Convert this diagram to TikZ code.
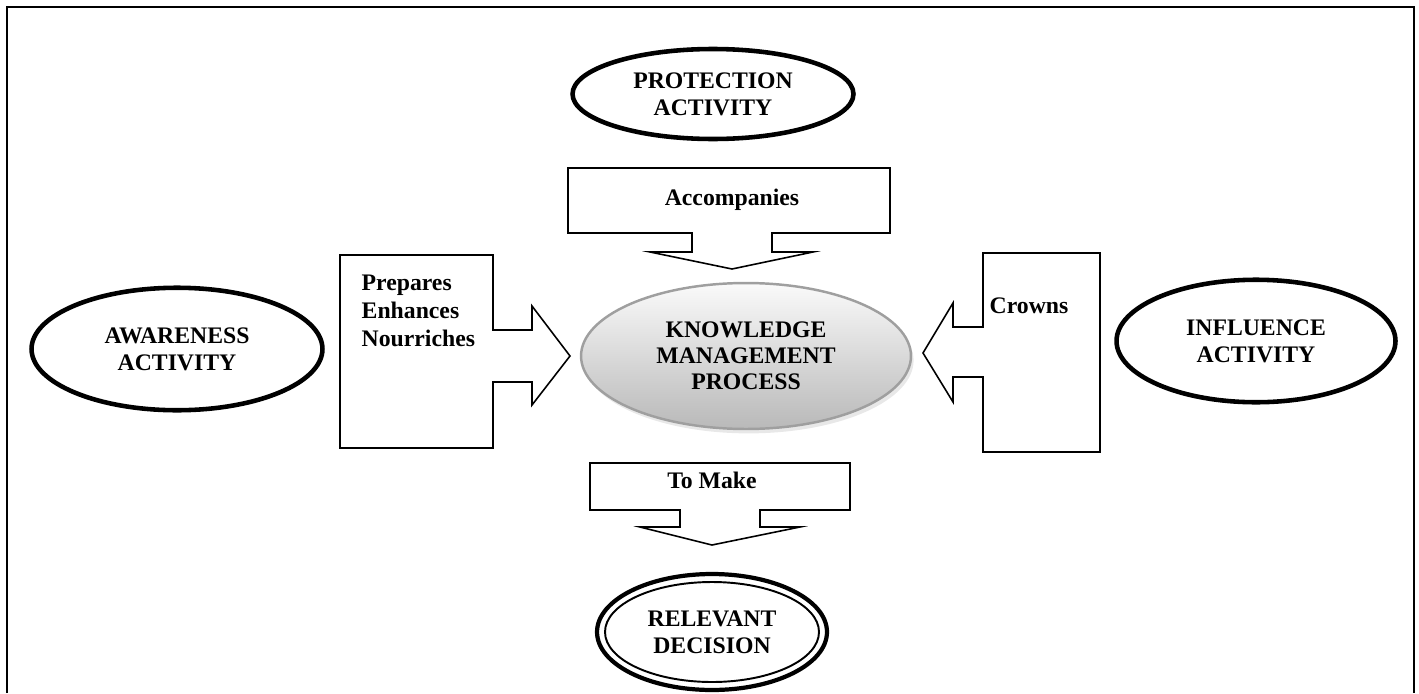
\documentclass[tikz,border=0pt]{standalone}
\usepackage{fontspec}
\setmainfont{Liberation Serif}
\usetikzlibrary{shapes.geometric, shadows}

\begin{document}
\begin{tikzpicture}[x=0.02cm, y=-0.02cm, thick,
  act node/.style={ellipse, draw, line width=2.6pt, inner sep=0pt, align=center, font=\fontsize{13.5}{15.5}\selectfont\bfseries},
  core node/.style={ellipse, draw=gray!75, line width=1.4pt, top color=gray!4, bottom color=gray!55, inner sep=0pt, align=center,
    drop shadow={shadow xshift=1.5pt, shadow yshift=-2.5pt, fill=gray!35}, font=\fontsize{13.5}{14.8}\selectfont\bfseries},
  callout/.style={draw, line width=0.9pt, fill=white, line join=miter},
  verb text/.style={inner sep=0pt, align=left, font=\fontsize{13.5}{15.9}\selectfont\bfseries}]

  \useasboundingbox (0,0) rectangle (1419,693);

  % Frame (open at the bottom)
  \draw[line width=1.2pt] (7,693) -- (7,7) -- (1414,7) -- (1414,693);

  % Activities
  \node[act node, minimum width=5.62cm, minimum height=1.8cm] (prot) at (713,94) {PROTECTION\\ACTIVITY};
  \node[act node, minimum width=5.82cm, minimum height=2.45cm] (aware) at (177,349) {AWARENESS\\ACTIVITY};
  \node[act node, minimum width=5.58cm, minimum height=2.45cm] (infl) at (1256,341) {INFLUENCE\\ACTIVITY};

  % Central process
  \node[core node, minimum width=6.6cm, minimum height=2.92cm] (kmp) at (746,356) {KNOWLEDGE\\MANAGEMENT\\PROCESS};

  % Decision
  \node[act node, line width=2.4pt, minimum width=4.6cm, minimum height=2.32cm] (dec) at (712,632) {RELEVANT\\DECISION};
  \draw[line width=1.1pt] (dec.center) ellipse [x radius=107, y radius=50];

  % Callout arrows
  \draw[callout] (340,255) -- (493,255) -- (493,330) -- (532,330) -- (532,306) -- (570,356)
    -- (532,405) -- (532,382) -- (493,382) -- (493,448) -- (340,448) -- cycle;
  \node[verb text, anchor=north west] (prep) at (361,274) {Prepares\\Enhances\\Nourriches};

  \draw[callout] (1100,253) -- (983,253) -- (983,327) -- (953,327) -- (953,303) -- (923,353)
    -- (953,402) -- (953,377) -- (983,377) -- (983,452) -- (1100,452) -- cycle;
  \node[verb text, anchor=base west] (crown) at (989,313) {Crowns};

  \draw[callout] (568,168) -- (890,168) -- (890,233) -- (772,233) -- (772,252) -- (813,252)
    -- (732,269) -- (650,252) -- (692,252) -- (692,233) -- (568,233) -- cycle;
  \node[verb text] (acc) at (732,200) {Accompanies};

  \draw[callout] (590,463) -- (850,463) -- (850,510) -- (760,510) -- (760,527) -- (800,527)
    -- (712,545) -- (640,527) -- (680,527) -- (680,510) -- (590,510) -- cycle;
  \node[verb text] (make) at (712,480) {To Make};
\end{tikzpicture}
\end{document}
